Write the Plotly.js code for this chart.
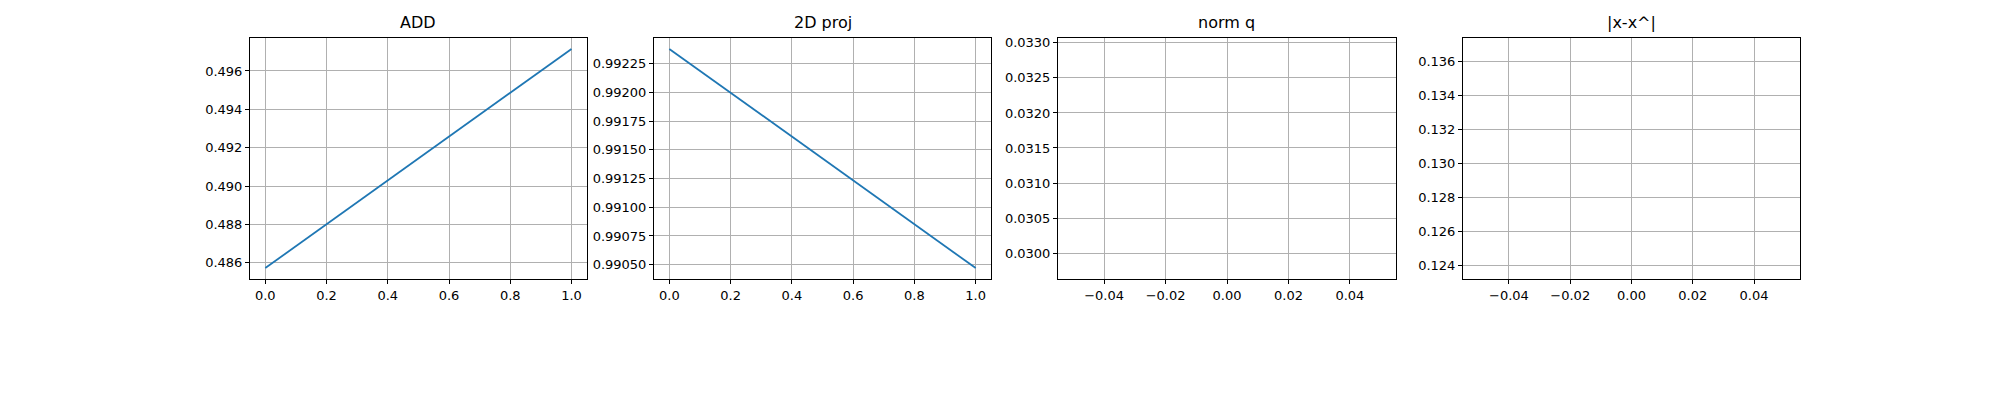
<!DOCTYPE html>
<html><head><script src="https://cdn.plot.ly/plotly-3.0.1.min.js"></script>
<style>body{margin:0}</style></head>
<body><div id="plot" style="width:2000px;height:400px"></div>
<script>
var titles = ['ADD', '2D proj', 'norm q', '|x-x^|'];
var addX = [0, 1], addY = [0.48572, 0.49715];
var projX = [0, 1], projY = [0.99238, 0.99047];
var normX = [0], normY = [0.03135];
var errX = [0], errY = [0.1303];

var doms = [[0.125, 0.2934], [0.327, 0.4955], [0.529, 0.698], [0.7315, 0.900]];
var series = [[addX, addY], [projX, projY], [normX, normY], [errX, errY]];
var yr = [[0.48515, 0.49772], [0.990375, 0.992475], [0.02963, 0.03307], [0.1232, 0.1374]];
var yt = [[0.486, 0.488, 0.490, 0.492, 0.494, 0.496],
  [0.9905, 0.99075, 0.991, 0.99125, 0.9915, 0.99175, 0.992, 0.99225],
  [0.0300, 0.0305, 0.0310, 0.0315, 0.0320, 0.0325, 0.0330],
  [0.124, 0.126, 0.128, 0.130, 0.132, 0.134, 0.136]];
var ytt = [['0.486','0.488','0.490','0.492','0.494','0.496'],
  ['0.99050','0.99075','0.99100','0.99125','0.99150','0.99175','0.99200','0.99225'],
  ['0.0300','0.0305','0.0310','0.0315','0.0320','0.0325','0.0330'],
  ['0.124','0.126','0.128','0.130','0.132','0.134','0.136']];
var xr = [[-0.05, 1.05], [-0.05, 1.05], [-0.055, 0.055], [-0.055, 0.055]];
var xt = [[0, 0.2, 0.4, 0.6, 0.8, 1.0], [0, 0.2, 0.4, 0.6, 0.8, 1.0],
  [-0.04, -0.02, 0, 0.02, 0.04], [-0.04, -0.02, 0, 0.02, 0.04]];
var xtt = [['0.0','0.2','0.4','0.6','0.8','1.0'], ['0.0','0.2','0.4','0.6','0.8','1.0'],
  ['\u22120.04','\u22120.02','0.00','0.02','0.04'], ['\u22120.04','\u22120.02','0.00','0.02','0.04']];

var data = [], layout = {
  width: 2000, height: 400, showlegend: false,
  paper_bgcolor: 'white', plot_bgcolor: 'white',
  margin: {l: 0, r: 0, t: 0, b: 0},
  font: {family: 'DejaVu Sans', size: 13, color: 'black'},
  annotations: []
};
for (var i = 0; i < 4; i++) {
  var s = i === 0 ? '' : String(i + 1);
  data.push({x: series[i][0], y: series[i][1], type: 'scatter', mode: 'lines',
    line: {color: '#1f77b4', width: 1.8}, xaxis: 'x' + s, yaxis: 'y' + s});
  var ax = {showline: true, mirror: true, linecolor: 'black', linewidth: 1,
    ticks: 'outside', ticklen: 4, tickcolor: 'black', zeroline: false,
    showgrid: true, gridcolor: '#b0b0b0', gridwidth: 1};
  layout['xaxis' + s] = Object.assign({}, ax, {domain: doms[i], range: xr[i],
    tickvals: xt[i], ticktext: xtt[i], anchor: 'y' + s});
  layout['yaxis' + s] = Object.assign({}, ax, {domain: [0.3025, 0.905], range: yr[i],
    tickvals: yt[i], ticktext: ytt[i], anchor: 'x' + s});
  layout.annotations.push({text: titles[i], showarrow: false, xref: 'paper', yref: 'paper',
    x: (doms[i][0] + doms[i][1]) / 2, y: 0.915, xanchor: 'center', yanchor: 'bottom',
    font: {size: 16}});
}
Plotly.newPlot('plot', data, layout, {staticPlot: true});
</script></body></html>
